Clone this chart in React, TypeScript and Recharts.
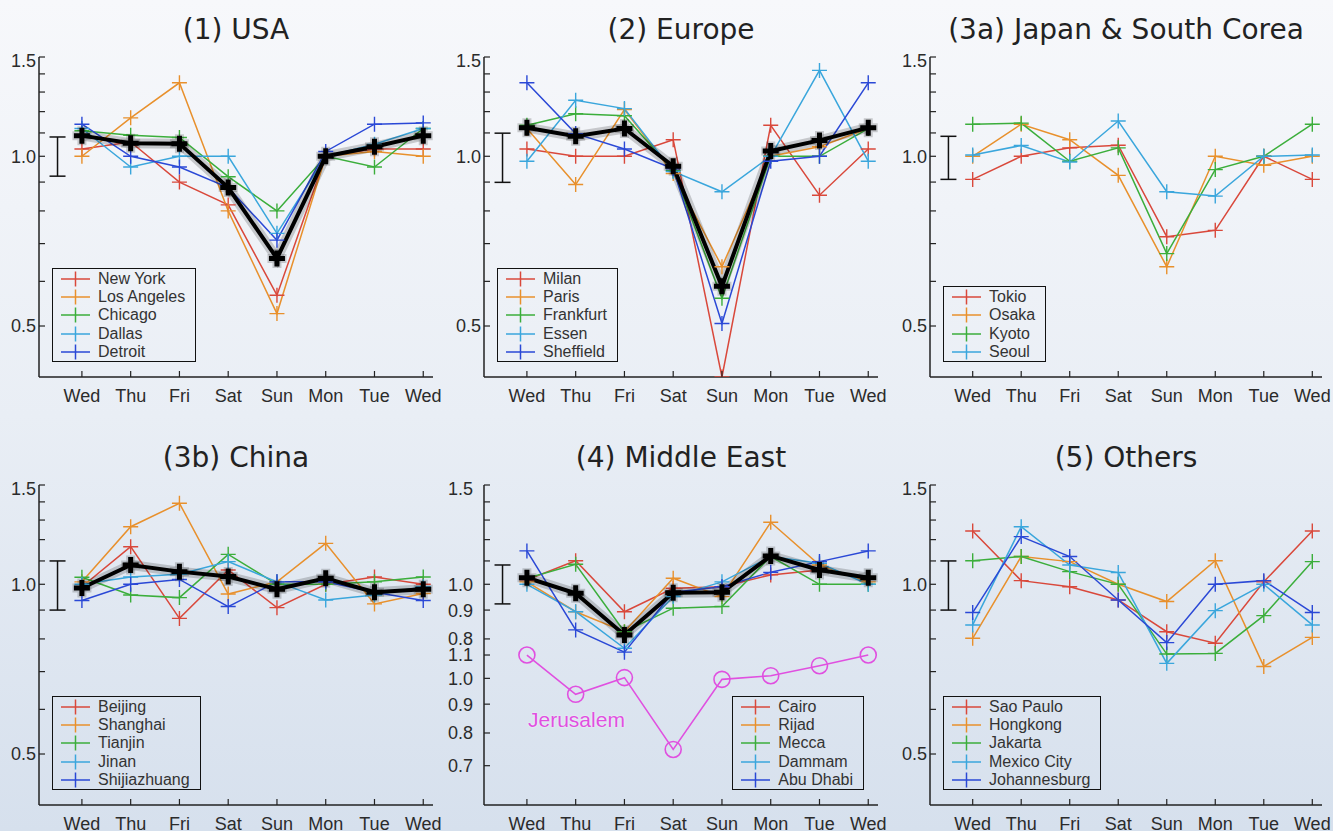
import React from "react";
import { ComposedChart, Line, XAxis, YAxis, Scatter, ErrorBar, Legend } from "recharts";

// weekday activity relative to the weekly mean, log y axis
const DAYS = ["Wed", "Thu", "Fri", "Sat", "Sun", "Mon", "Tue", "Wed"];
const DAY_INDEX = [0, 1, 2, 3, 4, 5, 6, 7];

const Y_MIN = 0.406;
const Y_MAX = 1.5;
const MINOR_TICKS = [0.5, 0.6, 0.7, 0.8, 0.9, 1.0, 1.1, 1.2, 1.3, 1.4, 1.5];
const MAJOR_TICKS = [0.5, 1.0, 1.5];

// (1) USA
const NEW_YORK = [1.03, 1.06, 0.9, 0.82, 0.567, 1.0, 1.03, 1.03];
const LOS_ANGELES = [1.0, 1.17, 1.35, 0.8, 0.526, 1.0, 1.02, 1.0];
const CHICAGO = [1.11, 1.09, 1.08, 0.92, 0.8, 1.0, 0.957, 1.12];
const DALLAS = [1.12, 0.957, 1.0, 1.0, 0.73, 1.0, 1.05, 1.12];
const DETROIT = [1.14, 1.0, 0.957, 0.88, 0.71, 1.02, 1.14, 1.146];
const USA_AVG = [1.088, 1.055, 1.053, 0.88, 0.659, 1.0, 1.04, 1.088];
const USA_ERR = [0.922, 1.082];

// (2) Europe
const MILAN = [1.03, 1.0, 1.0, 1.07, 0.406, 1.135, 0.853, 1.03];
const PARIS = [1.12, 0.891, 1.21, 0.932, 0.637, 1.0, 1.04, 1.12];
const FRANKFURT = [1.135, 1.19, 1.18, 0.944, 0.56, 1.0, 1.0, 1.12];
const ESSEN = [0.98, 1.257, 1.215, 0.94, 0.865, 1.0, 1.42, 0.98];
const SHEFFIELD = [1.35, 1.097, 1.03, 0.95, 0.505, 0.98, 1.0, 1.35];
const EUROPE_AVG = [1.124, 1.085, 1.12, 0.96, 0.588, 1.022, 1.067, 1.124];
const EUROPE_ERR = [0.899, 1.099];

// (3a) Japan & South Corea
const TOKIO = [0.91, 1.0, 1.035, 1.046, 0.72, 0.739, 1.0, 0.91];
const OSAKA = [1.0, 1.14, 1.07, 0.925, 0.637, 1.0, 0.964, 1.0];
const KYOTO = [1.14, 1.145, 0.98, 1.035, 0.672, 0.947, 1.0, 1.14];
const SEOUL = [1.005, 1.045, 0.977, 1.155, 0.865, 0.85, 1.0, 1.005];
const JAPAN_ERR = [0.91, 1.085];

// (3b) China
const BEIJING = [0.99, 1.166, 0.87, 1.06, 0.909, 1.0, 1.03, 1.0];
const SHANGHAI = [1.01, 1.265, 1.392, 0.961, 1.01, 1.182, 0.923, 0.963];
const TIANJIN = [1.029, 0.957, 0.947, 1.13, 1.0, 1.0, 1.01, 1.03];
const JINAN = [1.0, 1.03, 1.042, 1.097, 1.01, 0.938, 0.957, 0.99];
const SHIJIAZHUANG = [0.936, 1.0, 1.02, 0.913, 1.01, 1.01, 0.968, 0.936];
const CHINA_AVG = [0.985, 1.082, 1.053, 1.032, 0.98, 1.025, 0.968, 0.98];
const CHINA_ERR = [0.9, 1.1];

// (4) Middle East
const CAIRO = [1.018, 1.101, 0.894, 0.984, 0.99, 1.039, 1.06, 1.025];
const RIJAD = [1.01, 0.894, 0.824, 1.025, 0.951, 1.288, 1.082, 1.01];
const MECCA = [1.025, 1.085, 0.824, 0.907, 0.913, 1.12, 1.0, 1.0];
const DAMMAM = [1.0, 0.894, 0.77, 0.951, 1.01, 1.12, 1.09, 1.0];
const ABU_DHABI = [1.146, 0.83, 0.758, 0.968, 0.99, 1.05, 1.097, 1.146];
const ME_AVG = [1.027, 0.964, 0.813, 0.966, 0.968, 1.123, 1.06, 1.027];
const ME_ERR = [0.923, 1.082];
const ME_TICKS = [0.8, 0.9, 1.0, 1.1, 1.2, 1.3, 1.4, 1.5];
const ME_LABELS = [0.8, 0.9, 1.0, 1.5];
const JERUSALEM = [1.1, 0.937, 1.003, 0.748, 0.996, 1.011, 1.053, 1.1];
const JERUSALEM_TICKS = [0.7, 0.8, 0.9, 1.0, 1.1];
const JERUSALEM_SHIFT = 0.681; // Jerusalem sits lower on the same log axis

// (5) Others
const SAO_PAULO = [1.243, 1.015, 0.99, 0.938, 0.824, 0.786, 1.01, 1.243];
const HONGKONG = [0.802, 1.12, 1.097, 1.0, 0.932, 1.101, 0.715, 0.805];
const JAKARTA = [1.101, 1.12, 1.053, 1.0, 0.752, 0.754, 0.88, 1.097];
const MEXICO_CITY = [0.847, 1.265, 1.082, 1.049, 0.724, 0.898, 1.0, 0.847];
const JOHANNESBURG = [0.891, 1.215, 1.12, 0.938, 0.788, 1.0, 1.015, 0.891];
const OTHERS_ERR = [0.9, 1.1];

const RED = "#d9483b";
const ORANGE = "#e8902c";
const GREEN = "#3bae3b";
const CYAN = "#3aa6dc";
const BLUE = "#2a48d6";
const MAGENTA = "#e050e0";
const FONT = "'Liberation Sans', Arial, sans-serif";
const TITLE_FONT = "'DejaVu Sans', sans-serif";

// chart frame around each plot box
const YW = 48;
const MT = 14;
const MR = 14;
const XH = 36;
const PH = 320;

type City = { name: string; values: number[]; color: string };
type PanelCfg = {
  title: string;
  left: number;
  top: number;
  width: number;
  cities: City[];
  avg?: number[];
  err: number[];
  legendRight?: boolean;
  jerusalem?: boolean;
  gap?: number;
};

const PANELS: PanelCfg[] = [
  {
    title: "(1) USA", left: 39, top: 57, width: 394, avg: USA_AVG, err: USA_ERR,
    cities: [
      { name: "New York", values: NEW_YORK, color: RED },
      { name: "Los Angeles", values: LOS_ANGELES, color: ORANGE },
      { name: "Chicago", values: CHICAGO, color: GREEN },
      { name: "Dallas", values: DALLAS, color: CYAN },
      { name: "Detroit", values: DETROIT, color: BLUE },
    ],
  },
  {
    title: "(2) Europe", left: 484, top: 57, width: 394, avg: EUROPE_AVG, err: EUROPE_ERR,
    cities: [
      { name: "Milan", values: MILAN, color: RED },
      { name: "Paris", values: PARIS, color: ORANGE },
      { name: "Frankfurt", values: FRANKFURT, color: GREEN },
      { name: "Essen", values: ESSEN, color: CYAN },
      { name: "Sheffield", values: SHEFFIELD, color: BLUE },
    ],
  },
  {
    title: "(3a) Japan & South Corea", left: 930, top: 57, width: 392, err: JAPAN_ERR,
    cities: [
      { name: "Tokio", values: TOKIO, color: RED },
      { name: "Osaka", values: OSAKA, color: ORANGE },
      { name: "Kyoto", values: KYOTO, color: GREEN },
      { name: "Seoul", values: SEOUL, color: CYAN },
    ],
  },
  {
    title: "(3b) China", left: 39, top: 485, width: 394, avg: CHINA_AVG, err: CHINA_ERR,
    cities: [
      { name: "Beijing", values: BEIJING, color: RED },
      { name: "Shanghai", values: SHANGHAI, color: ORANGE },
      { name: "Tianjin", values: TIANJIN, color: GREEN },
      { name: "Jinan", values: JINAN, color: CYAN },
      { name: "Shijiazhuang", values: SHIJIAZHUANG, color: BLUE },
    ],
  },
  {
    title: "(4) Middle East", left: 484, top: 485, width: 394, avg: ME_AVG, err: ME_ERR,
    legendRight: true, jerusalem: true, gap: 11,
    cities: [
      { name: "Cairo", values: CAIRO, color: RED },
      { name: "Rijad", values: RIJAD, color: ORANGE },
      { name: "Mecca", values: MECCA, color: GREEN },
      { name: "Dammam", values: DAMMAM, color: CYAN },
      { name: "Abu Dhabi", values: ABU_DHABI, color: BLUE },
    ],
  },
  {
    title: "(5) Others", left: 930, top: 485, width: 392, err: OTHERS_ERR,
    cities: [
      { name: "Sao Paulo", values: SAO_PAULO, color: RED },
      { name: "Hongkong", values: HONGKONG, color: ORANGE },
      { name: "Jakarta", values: JAKARTA, color: GREEN },
      { name: "Mexico City", values: MEXICO_CITY, color: CYAN },
      { name: "Johannesburg", values: JOHANNESBURG, color: BLUE },
    ],
  },
];

const plusDot = (size: number, width: number, color: string) => (p: any) => {
  const key = `d-${p.dataKey}-${p.index}`;
  if (p.cx == null || p.cy == null) return <g key={key} />;
  return (
    <path
      key={key}
      d={`M${p.cx - size},${p.cy}H${p.cx + size}M${p.cx},${p.cy - size}V${p.cy + size}`}
      stroke={color}
      strokeWidth={width}
      fill="none"
    />
  );
};

const ringDot = (p: any) => (
  <circle key={`r-${p.index}`} cx={p.cx} cy={p.cy} r={8} stroke={MAGENTA} strokeWidth={1.6} fill="none" />
);

const yTick = (vals: number[], texts: (string | null)[], gap: number) => (p: any) => {
  const k = vals.findIndex((v) => Math.abs(v - p.payload.value) < 1e-6);
  const t = k >= 0 ? texts[k] : null;
  const x0 = p.x + gap;
  return (
    <g key={`yt-${p.index}`}>
      <line x1={x0} x2={x0 + 6} y1={p.y} y2={p.y} stroke="#222" strokeWidth={1.2} />
      {t && (
        <text
          x={p.x}
          y={p.y}
          dy={Math.abs(p.payload.value - Y_MAX) < 1e-6 ? "0.55em" : "0.36em"}
          textAnchor="end"
          fontFamily={FONT}
          fontSize={18}
          fill="#2b2b2b"
        >
          {t}
        </text>
      )}
    </g>
  );
};

const xTick = (p: any) => (
  <g key={`xt-${p.index}`}>
    <line x1={p.x} x2={p.x} y1={p.y - 12} y2={p.y - 18} stroke="#222" strokeWidth={1.2} />
    <text x={p.x} y={p.y} dy="0.71em" textAnchor="middle" fontFamily={FONT} fontSize={18} fill="#2b2b2b">
      {DAYS[p.payload.value]}
    </text>
  </g>
);

// legend lists the cities only, in their own order
function LegendBox({ cities }: { cities: City[] }) {
  return (
    <div
      style={{
        border: "1.5px solid #111",
        padding: "1px 10px 0 0",
        fontFamily: FONT,
        fontSize: 16,
        color: "#333",
        whiteSpace: "nowrap",
      }}
    >
      {cities.map((c) => (
        <div key={c.name} style={{ display: "flex", alignItems: "center", height: 18.3 }}>
          <svg width={45} height={18} style={{ flex: "none" }}>
            <line x1={8} x2={37} y1={9} y2={9} stroke={c.color} strokeWidth={1.5} />
            <line x1={22.5} x2={22.5} y1={1.5} y2={16.5} stroke={c.color} strokeWidth={1.5} />
          </svg>
          <span>{c.name}</span>
        </div>
      ))}
    </div>
  );
}

function Panel({ cfg }: { cfg: PanelCfg }) {
  const rows = DAY_INDEX.map((i) => {
    const r: Record<string, number> = { i };
    cfg.cities.forEach((c) => {
      r[c.name] = c.values[i];
    });
    if (cfg.avg) r.avg = cfg.avg[i];
    if (cfg.jerusalem) r.jer = JERUSALEM[i] * JERUSALEM_SHIFT;
    return r;
  });
  const errData = [{ i: -0.5, v: 1, err: [1 - cfg.err[0], cfg.err[1] - 1] }];

  let tickVals = MINOR_TICKS;
  let tickTexts: (string | null)[] = MINOR_TICKS.map((v) => (MAJOR_TICKS.includes(v) ? v.toFixed(1) : null));
  if (cfg.jerusalem) {
    tickVals = [...JERUSALEM_TICKS.map((v) => v * JERUSALEM_SHIFT), ...ME_TICKS];
    tickTexts = [
      ...JERUSALEM_TICKS.map((v) => v.toFixed(1)),
      ...ME_TICKS.map((v) => (ME_LABELS.includes(v) ? v.toFixed(1) : null)),
    ];
  }
  const gap = cfg.gap ?? 3;
  const chartW = YW + cfg.width + MR;
  const chartH = MT + PH + XH;
  const boxH = cfg.cities.length * 18.3 + 4;
  const legendStyle: React.CSSProperties = cfg.legendRight
    ? { left: "auto", right: MR + 14, top: MT + PH - 14 - boxH, width: "auto" }
    : { left: YW + 13, top: MT + PH - 14 - boxH, width: "auto" };
  const axisStyle = { stroke: "#222", strokeWidth: 1.5 };

  return (
    <>
      <div
        style={{
          position: "absolute",
          left: cfg.left - 40,
          width: cfg.width + 80,
          top: cfg.top - 41,
          lineHeight: "28px",
          textAlign: "center",
          fontFamily: TITLE_FONT,
          fontSize: 28,
          color: "#222",
        }}
      >
        {cfg.title}
      </div>
      <div style={{ position: "absolute", left: cfg.left - YW, top: cfg.top - MT }}>
        <ComposedChart width={chartW} height={chartH} data={rows} margin={{ top: MT, right: MR, bottom: 0, left: 0 }}>
          <XAxis
            dataKey="i"
            type="number"
            domain={[-0.88, 7.2]}
            allowDataOverflow
            ticks={DAY_INDEX}
            interval={0}
            height={XH}
            tickSize={0}
            tickMargin={12}
            tickLine={false}
            tick={xTick}
            axisLine={axisStyle}
          />
          <XAxis
            xAxisId="top"
            orientation="top"
            mirror
            height={0}
            type="number"
            domain={[-0.88, 7.2]}
            allowDataOverflow
            ticks={DAY_INDEX}
            interval={0}
            tick={false}
            tickSize={6}
            tickLine={{ stroke: "#222", strokeWidth: 1.2 }}
            axisLine={axisStyle}
          />
          <YAxis
            scale="log"
            type="number"
            domain={[Y_MIN, Y_MAX]}
            allowDataOverflow
            ticks={tickVals}
            interval={0}
            width={YW}
            tickSize={0}
            tickMargin={gap}
            tickLine={false}
            tick={yTick(tickVals, tickTexts, gap)}
            axisLine={axisStyle}
          />
          <YAxis
            yAxisId="r"
            orientation="right"
            mirror
            width={0}
            scale="log"
            type="number"
            domain={[Y_MIN, Y_MAX]}
            allowDataOverflow
            ticks={tickVals}
            interval={0}
            tick={false}
            tickSize={6}
            tickLine={{ stroke: "#222", strokeWidth: 1.2 }}
            axisLine={axisStyle}
          />
          <Legend
            layout="vertical"
            align="center"
            verticalAlign="middle"
            wrapperStyle={legendStyle}
            content={() => <LegendBox cities={cfg.cities} />}
          />
          <Scatter data={errData} dataKey="v" legendType="none" isAnimationActive={false} shape={() => <g />}>
            <ErrorBar dataKey="err" direction="y" width={8} stroke="#111" strokeWidth={1.5} />
          </Scatter>
          {cfg.cities.map((c) => (
            <Line
              key={c.name}
              dataKey={c.name}
              name={c.name}
              stroke={c.color}
              strokeWidth={1.5}
              dot={plusDot(7.5, 1.4, c.color)}
              activeDot={false}
              isAnimationActive={false}
            />
          ))}
          {cfg.jerusalem && (
            <Line
              key="jer"
              dataKey="jer"
              stroke={MAGENTA}
              strokeWidth={1.6}
              dot={ringDot}
              activeDot={false}
              legendType="none"
              isAnimationActive={false}
            />
          )}
          {cfg.avg && (
            <Line
              key="avg-halo"
              dataKey="avg"
              stroke="#000"
              strokeOpacity={0.18}
              strokeWidth={10}
              dot={plusDot(9.5, 9, "rgba(0,0,0,0.18)")}
              activeDot={false}
              legendType="none"
              isAnimationActive={false}
            />
          )}
          {cfg.avg && (
            <Line
              key="avg"
              dataKey="avg"
              stroke="#000"
              strokeWidth={4}
              dot={plusDot(8, 5, "#000")}
              activeDot={false}
              legendType="none"
              isAnimationActive={false}
            />
          )}
        </ComposedChart>
      </div>
    </>
  );
}

export default function App() {
  return (
    <div
      style={{
        position: "absolute",
        left: 0,
        top: 0,
        width: 1333,
        height: 831,
        overflow: "hidden",
        background: "linear-gradient(to bottom, #f7f8fb 0%, #e9eef5 50%, #d6e0ed 100%)",
      }}
    >
      {PANELS.map((p) => (
        <Panel key={p.title} cfg={p} />
      ))}
      <div
        style={{
          position: "absolute",
          left: 528,
          top: 709,
          fontFamily: FONT,
          fontSize: 21,
          lineHeight: "21px",
          color: MAGENTA,
          textShadow: "0 0 2px #fff",
        }}
      >
        Jerusalem
      </div>
    </div>
  );
}
